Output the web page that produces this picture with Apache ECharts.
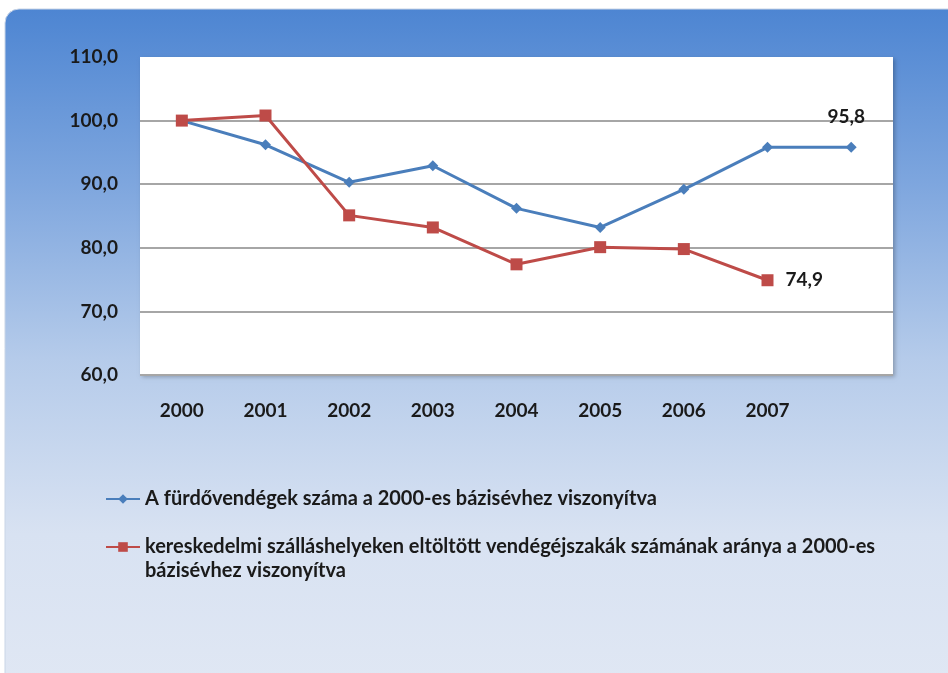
<!DOCTYPE html>
<html lang="hu">
<head>
  <meta charset="UTF-8">
  <title>Fürdővendégek és vendégéjszakák a 2000-es bázisévhez viszonyítva</title>
  <script src="https://cdn.jsdelivr.net/npm/echarts@6/dist/echarts.min.js"></script>
  <style>
    body { margin: 0; padding: 0; background: #fff; }
    #chart { width: 948px; height: 673px; }
  </style>
</head>
<body>
  <div id="chart"></div>
  <script>
    // kategóriák (az utolsó, címke nélküli pont is egy kategória)
    const years = ['2000', '2001', '2002', '2003', '2004', '2005', '2006', '2007', ''];

    // értékek
    const furdovendegek = [100, 96.2, 90.3, 92.9, 86.2, 83.2, 89.2, 95.8, 95.8];
    const vendegejszakak = [100, 100.8, 85.1, 83.2, 77.4, 80.1, 79.8, 74.9];

    const seriesNames = [
      'A fürdővendégek száma a 2000-es bázisévhez viszonyítva',
      'kereskedelmi szálláshelyeken eltöltött vendégéjszakák számának aránya a 2000-es bázisévhez viszonyítva'
    ];

    const fontFamily = 'Lato, "Open Sans", sans-serif';
    const fmt = v => v.toFixed(1).replace('.', ',');

    const chart = echarts.init(document.getElementById('chart'));

    const labelStyle = {
      fontSize: 19,
      fontWeight: 'bold',
      color: '#1a1a1a',
      fontFamily: fontFamily
    };

    // a hosszú jelmagyarázat tördelése; üres első sor, hogy az ikon az első sorhoz igazodjon
    const legendText = name => {
      if (name === seriesNames[1]) {
        return '\n' + name.replace('2000-es bázisévhez', '2000-es\nbázisévhez');
      }
      return name;
    };

    const option = {
      animation: false,
      textStyle: { fontFamily: fontFamily },
      // háttér: lekerekített, kék színátmenetes panel
      graphic: [
        {
          type: 'rect',
          z: -10,
          shape: { x: 5, y: 9, width: 970, height: 700, r: 14 },
          style: {
            fill: {
              type: 'linear', x: 0, y: 0, x2: 0, y2: 1,
              colorStops: [
                { offset: 0, color: '#4d85d2' },
                { offset: 0.25, color: '#7ea6de' },
                { offset: 0.5, color: '#b5cbea' },
                { offset: 0.75, color: '#d8e2f2' },
                { offset: 1, color: '#e1e8f4' }
              ]
            },
            stroke: '#c9d5e6',
            lineWidth: 1
          }
        }
      ],
      grid: {
        left: 140,
        top: 57,
        width: 753,
        height: 318,
        show: true,
        backgroundColor: '#ffffff',
        borderWidth: 0,
        shadowColor: 'rgba(0,0,0,0.25)',
        shadowBlur: 4,
        shadowOffsetX: 2,
        shadowOffsetY: 2
      },
      legend: {
        orient: 'vertical',
        left: 100,
        top: 482,
        itemGap: 0,
        itemWidth: 34,
        itemHeight: 12,
        data: seriesNames,
        formatter: legendText,
        textStyle: {
          fontFamily: fontFamily,
          fontWeight: 'bold',
          fontSize: 20,
          color: '#1a1a1a',
          lineHeight: 24
        }
      },
      xAxis: {
        type: 'category',
        data: years,
        boundaryGap: true,
        axisLine: { show: false },
        axisTick: { show: false },
        axisLabel: Object.assign({ margin: 26 }, labelStyle)
      },
      yAxis: {
        type: 'value',
        min: 60,
        max: 110,
        interval: 10,
        axisLine: { show: false },
        axisTick: { show: false },
        axisLabel: Object.assign({ margin: 22, formatter: v => fmt(v) }, labelStyle),
        splitLine: {
          lineStyle: {
            color: ['#a6a6a6', '#a6a6a6', '#a6a6a6', '#a6a6a6', '#a6a6a6', 'rgba(0,0,0,0)'],
            width: 2
          }
        }
      },
      series: [
        {
          name: seriesNames[0],
          type: 'line',
          data: furdovendegek,
          symbol: 'diamond',
          symbolSize: 11,
          lineStyle: { color: '#4a7ebb', width: 3 },
          itemStyle: { color: '#4a7ebb' },
          label: Object.assign({
            show: true,
            position: 'top',
            distance: 15,
            offset: [-5, 0],
            formatter: p => (p.dataIndex === furdovendegek.length - 1 ? fmt(p.value) : '')
          }, labelStyle)
        },
        {
          name: seriesNames[1],
          type: 'line',
          data: vendegejszakak,
          symbol: 'rect',
          symbolSize: 12,
          lineStyle: { color: '#be4b48', width: 3 },
          itemStyle: { color: '#be4b48' },
          label: Object.assign({
            show: true,
            position: 'right',
            distance: 12,
            formatter: p => (p.dataIndex === vendegejszakak.length - 1 ? fmt(p.value) : '')
          }, labelStyle)
        }
      ]
    };

    chart.setOption(option);
  </script>
</body>
</html>
